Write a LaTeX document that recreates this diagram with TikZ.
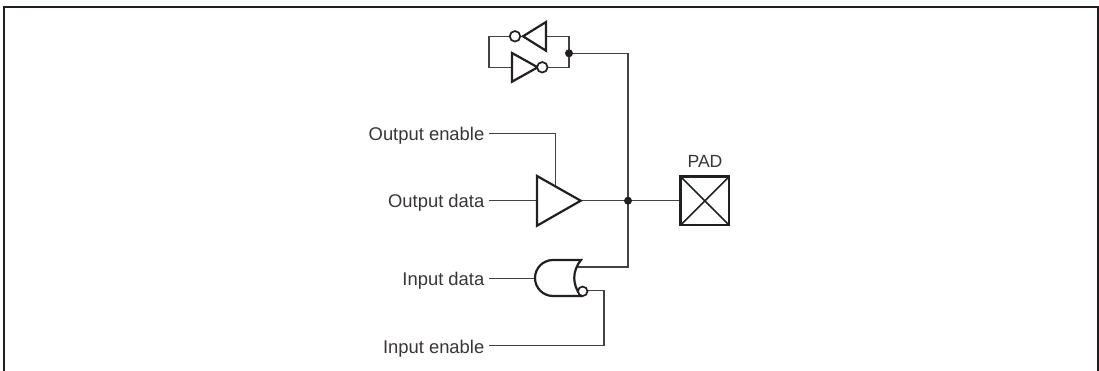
\documentclass[tikz,border=0pt]{standalone}
\usepackage{fontspec}
\setmainfont{Liberation Sans}
\definecolor{ink}{HTML}{231F20}
\tikzset{
  wire/.style={draw=ink!85,line width=1.3pt},
  gate/.style={draw=ink,line width=2.2pt,fill=white,line join=miter},
  bubble/.style={circle,draw=ink,line width=1.7pt,fill=white,minimum size=10.5pt,inner sep=0pt},
  junction/.style={circle,fill=ink,minimum size=8pt,inner sep=0pt},
  lbl/.style={font=\fontsize{18.4}{20}\selectfont,text=ink!90,inner sep=0pt},
  sig/.style={lbl,anchor=base east}
}
\begin{document}
\begin{tikzpicture}[x=1pt,y=-1pt]
\useasboundingbox (0,0) rectangle (1099,371);
% frame
\draw[ink,line width=2pt] (4,371) -- (4,7) -- (1097.5,7) -- (1097.5,371);
% labels
\node[sig] (oe) at (484.5,141) {Output enable};
\node[sig] (od) at (484.5,208) {Output data};
\node[sig] (id) at (484.5,285.7) {Input data};
\node[sig] (ie) at (484.5,353) {Input enable};
\node[lbl,anchor=base,font=\fontsize{17.6}{20}\selectfont] (padl) at (705,168) {PAD};
% named points
\coordinate (J1) at (569,53.3);
\coordinate (J2) at (628,200.7);
\coordinate (T1) at (569,36.3);
\coordinate (T2) at (569,67.3);
\coordinate (L1) at (489,36.3);
\coordinate (L2) at (489,67.3);
\coordinate (bufin) at (537,200.7);
\coordinate (bufout) at (580.7,200.7);
\coordinate (bufen) at (555.7,186);
\coordinate (padin) at (680.7,200.7);
\coordinate (norin) at (535.5,278.3);
\coordinate (norout) at (577,267);
\coordinate (w1) at (489,133.5);
\coordinate (w2) at (489,200.7);
\coordinate (w3) at (489,278.3);
\coordinate (w4) at (489,345.3);
% wires
\draw[wire] (w1) -- (555.7,133.5) -- (bufen);
\draw[wire] (w2) -- (bufin);
\draw[wire] (bufout) -- (J2) -- (padin);
\draw[wire] (w3) -- (norin);
\draw[wire] (J1) -- (628,53.3) -- (J2) -- (628,267) -- (norout);
\draw[wire] (w4) -- (604,345.3) -- (604,290.7) -- (583,290.7);
\draw[wire] (L1) rectangle (T2);
% gates
\draw[gate] (546,22) -- (523,36.3) -- (546,50.7) -- cycle;
\draw[gate] (512,53) -- (537.7,67.3) -- (512,81.7) -- cycle;
\node[bubble] (b1) at (515,36.3) {};
\node[bubble] (b2) at (542.3,67.3) {};
\draw[gate] (537,176) -- (580.7,200.7) -- (537,225.7) -- cycle;
\draw[gate] (581,260) -- (553,260) arc[start angle=-90,end angle=-270,radius=18] -- (581,296)
  .. controls (572,285) and (572,271) .. (581,260) -- cycle;
\node[bubble,minimum size=9.5pt] (b3) at (582.7,291.3) {};
\node[junction] (d1) at (J1) {};
\node[junction] (d2) at (J2) {};
% pad
\draw[gate,line width=2.6pt] (680.7,176.7) rectangle (729,225);
\draw[ink,line width=1.6pt] (680.7,176.7) -- (729,225) (729,176.7) -- (680.7,225);
\end{tikzpicture}
\end{document}
